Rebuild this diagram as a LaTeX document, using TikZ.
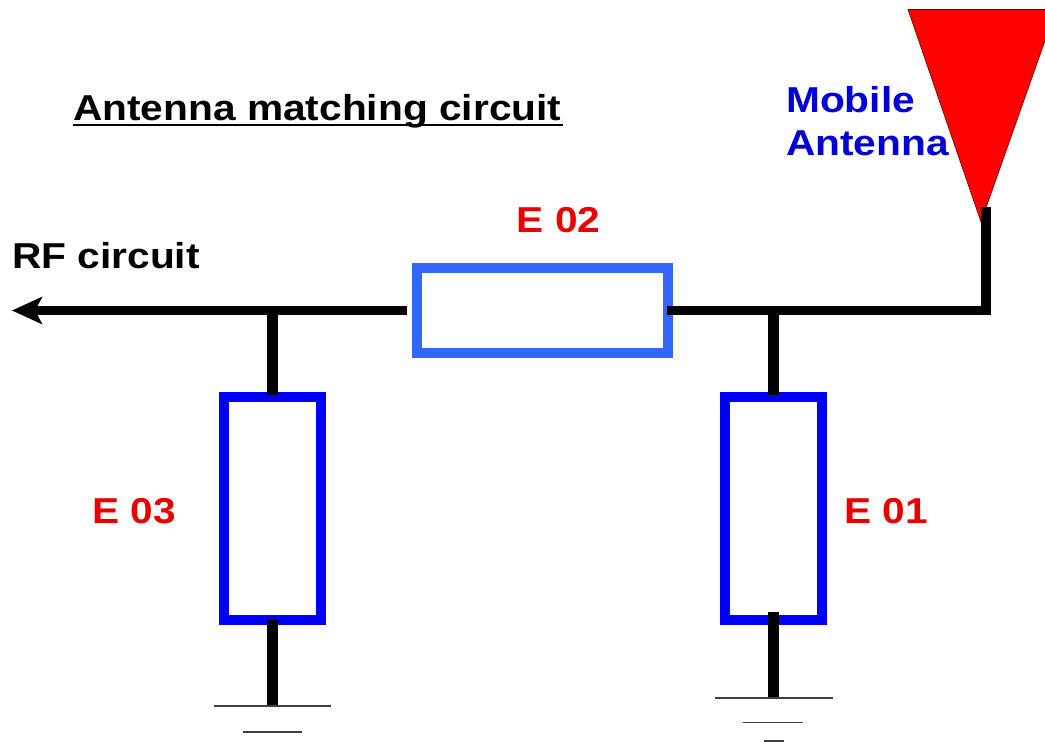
\documentclass[tikz,border=0pt]{standalone}
\usepackage{fontspec}
\usepackage{graphicx}
\setmainfont{Liberation Sans}
\usetikzlibrary{arrows.meta}
\definecolor{boxblue}{RGB}{0,0,250}
\definecolor{lightblue}{RGB}{51,102,255}
\definecolor{textblue}{RGB}{0,0,215}
\definecolor{labelred}{RGB}{235,0,0}
\newcommand{\wide}[1]{\scalebox{1.13}[1]{#1}}
\tikzset{
  x=1pt,y=-1pt,
  wire/.style={draw=black,line width=9pt},
  stub/.style={draw=black,line width=11pt},
  shuntbox/.style={draw=boxblue,line width=10pt,minimum width=97pt,minimum height=223pt,inner sep=0pt,fill=white},
  seriesbox/.style={draw=lightblue,line width=10pt,minimum width=251pt,minimum height=85pt,inner sep=0pt,fill=white},
  gnd/.style={draw=black!75,line width=1.1pt},
  lab/.style={font=\bfseries\fontsize{36}{36}\selectfont,text=labelred,inner sep=0pt},
  blab/.style={font=\bfseries\fontsize{36}{36}\selectfont,text=textblue,inner sep=0pt,align=left},
  blk/.style={font=\bfseries\fontsize{36}{36}\selectfont,text=black,inner sep=0pt},
}
\begin{document}
\begin{tikzpicture}
\useasboundingbox (0,0) rectangle (1045,742);
\clip (0,0) rectangle (1045,742);
% antenna
\fill[red,draw=black!60!red,line width=0.6pt] (908,9.5) -- (1056,9.5) -- (981,222) -- cycle;
% coordinates
\coordinate (tip) at (12,310.5);
\coordinate (leftgap) at (407,310.5);
\coordinate (rightgap) at (667,310.5);
\coordinate (corner) at (985.5,310.5);
\coordinate (cornerb) at (985.5,315);
\coordinate (feed) at (985.5,207);
\coordinate (jr) at (773.5,310.5);
\coordinate (jl) at (272.5,310.5);
\coordinate (gl1) at (272.5,706);
\coordinate (gl1a) at (214,706);
\coordinate (gl1b) at (331,706);
\coordinate (gl2a) at (243,732);
\coordinate (gl2b) at (302,732);
\coordinate (gr1) at (773.5,698);
\coordinate (gr1a) at (715,698);
\coordinate (gr1b) at (833,698);
\coordinate (gr2a) at (743,722.5);
\coordinate (gr2b) at (803,722.5);
\coordinate (gr3a) at (764,741.5);
\coordinate (gr3b) at (784,741.5);
\coordinate (rs) at (773.5,612);
\coordinate (ls) at (272.5,620);
% boxes
\node[shuntbox] (e3) at (272.5,508.5) {};
\node[shuntbox] (e1) at (773.5,508.5) {};
\node[seriesbox] (e2) at (542.5,310.5) {};
% wires
\draw[wire,-{Stealth[length=30pt,width=27pt,inset=7pt]}] (leftgap) -- (tip);
\draw[wire] (rightgap) -- (corner);
\draw[stub,line width=10pt] (feed) -- (cornerb);
\draw[stub] (jr) -- ([yshift=-3pt]e1.north);
\draw[stub] (jl) -- ([yshift=-3pt]e3.north);
\draw[stub] (rs) -- (gr1);
\draw[stub] (ls) -- (gl1);
% grounds
\draw[gnd] (gl1a) -- (gl1b);
\draw[gnd] (gl2a) -- (gl2b);
\draw[gnd] (gr1a) -- (gr1b);
\draw[gnd] (gr2a) -- (gr2b);
\draw[gnd,line width=2.4pt] (gr3a) -- (gr3b);
% labels
\node[blk,anchor=base west] (title) at (73,120) {\wide{Antenna matching circuit}};
\draw[black,line width=2pt] ([yshift=-4.5pt]title.base west) -- ([xshift=1.5pt,yshift=-4.5pt]title.base east);
\node[blk,anchor=base west] (rf) at (12,268) {\wide{RF circuit}};
\node[blab,anchor=base west] (m1) at (786,112) {\wide{Mobile}};
\node[blab,anchor=base west] (m2) at (786,155) {\wide{Antenna}};
\node[lab,anchor=base] (l2) at (558.5,232) {\wide{E 02}};
\node[lab,anchor=base] (l3) at (134,523.5) {\wide{E 03}};
\node[lab,anchor=base] (l1) at (886,523.5) {\wide{E 01}};
\end{tikzpicture}
\end{document}
